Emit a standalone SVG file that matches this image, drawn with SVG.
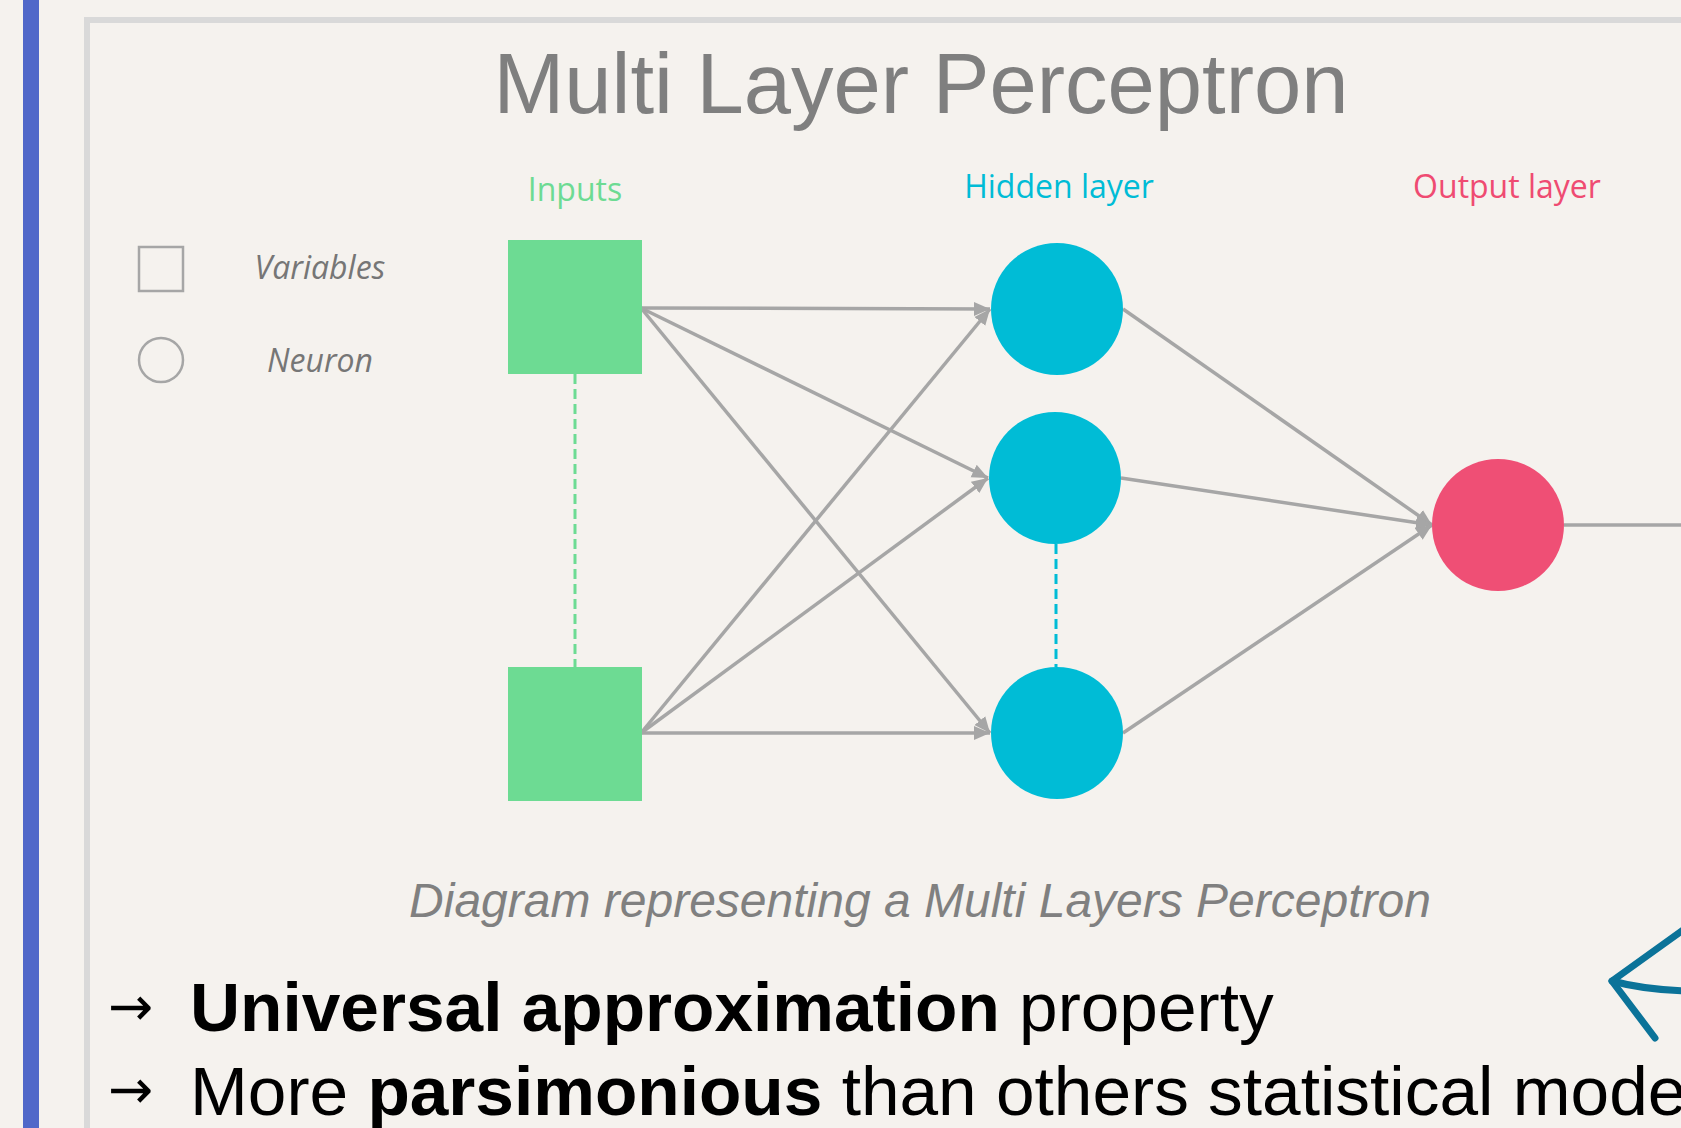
<svg xmlns="http://www.w3.org/2000/svg" width="1681" height="1128" viewBox="0 0 1681 1128">
<defs>
<style>
.lbl{font-family:"Open Sans","Noto Sans",sans-serif;font-size:32px;text-anchor:middle}
.leg{font-family:"Open Sans","Noto Sans",sans-serif;font-size:32px;font-style:italic;fill:#767676;text-anchor:middle}
.conn{stroke:#a6a6a6;stroke-width:3.5;fill:none}
.big{font-family:"Liberation Sans",Arial,sans-serif;font-size:69.4px;fill:#000}
.arr{font-family:"DejaVu Sans",sans-serif;font-size:54px;fill:#000}
.hid{fill:#00bcd6}
.inp{fill:#6ddb93}
</style>
<marker id="ah" markerUnits="userSpaceOnUse" markerWidth="18" markerHeight="16" viewBox="0 0 18 16" refX="16" refY="8" orient="auto">
<path d="M0,1 L16,8 L0,15 Z" fill="#a6a6a6"/>
</marker>
</defs>
<rect x="0" y="0" width="1681" height="1128" fill="#f5f2ee"/>
<rect x="23" y="0" width="16" height="1128" fill="#5068c9"/>
<rect x="87" y="20" width="1700" height="1200" fill="none" stroke="#d9d9d9" stroke-width="6"/>
<text x="921" y="113" font-family="Liberation Sans,Arial,sans-serif" font-size="85" fill="#7f7f7f" text-anchor="middle">Multi Layer Perceptron</text>
<text class="lbl" x="575" y="201" fill="#6ddb93">Inputs</text>
<text class="lbl" x="1059" y="198" fill="#00bcd6">Hidden layer</text>
<text class="lbl" x="1507" y="198" fill="#ef4b72">Output layer</text>
<g id="legend">
<rect x="139" y="247" width="44" height="44" fill="none" stroke="#a6a6a6" stroke-width="2.5"/>
<circle cx="161" cy="360" r="22" fill="none" stroke="#a6a6a6" stroke-width="2.5"/>
<text class="leg" x="320" y="279">Variables</text>
<text class="leg" x="320" y="372">Neuron</text>
</g>
<g id="connectors">
<line class="conn" x1="641" y1="308" x2="990" y2="309" marker-end="url(#ah)"/>
<line class="conn" x1="641" y1="308" x2="988" y2="478" marker-end="url(#ah)"/>
<line class="conn" x1="641" y1="308" x2="990" y2="733" marker-end="url(#ah)"/>
<line class="conn" x1="641" y1="733" x2="990" y2="309" marker-end="url(#ah)"/>
<line class="conn" x1="641" y1="733" x2="988" y2="478" marker-end="url(#ah)"/>
<line class="conn" x1="641" y1="733" x2="990" y2="733" marker-end="url(#ah)"/>
<line class="conn" x1="1123" y1="309" x2="1432" y2="525" marker-end="url(#ah)"/>
<line class="conn" x1="1121" y1="478" x2="1432" y2="525" marker-end="url(#ah)"/>
<line class="conn" x1="1123" y1="733" x2="1432" y2="525" marker-end="url(#ah)"/>
<line class="conn" x1="1564" y1="525" x2="1681" y2="525"/>
<line x1="575" y1="374" x2="575" y2="667" stroke="#6ddb93" stroke-width="3" stroke-dasharray="10,5"/>
<line x1="1056" y1="544" x2="1056" y2="667" stroke="#00bcd6" stroke-width="3" stroke-dasharray="10,5"/>
</g>
<g id="input1"><rect class="inp" x="508" y="240" width="134" height="134"/></g>
<g id="input2"><rect class="inp" x="508" y="667" width="134" height="134"/></g>
<g id="hidden1"><circle class="hid" cx="1057" cy="309" r="66"/></g>
<g id="hidden2"><circle class="hid" cx="1055" cy="478" r="66"/></g>
<g id="hidden3"><circle class="hid" cx="1057" cy="733" r="66"/></g>
<g id="output"><circle cx="1498" cy="525" r="66" fill="#ef4f75"/></g>
<text x="920" y="917" font-family="Liberation Sans,Arial,sans-serif" font-size="48" font-style="italic" fill="#808080" text-anchor="middle">Diagram representing a Multi Layers Perceptron</text>
<text class="arr" x="108" y="1025">→</text>
<text class="big" x="190" y="1031"><tspan font-weight="bold">Universal approximation</tspan> property</text>
<text class="arr" x="108" y="1108">→</text>
<text class="big" x="190" y="1115">More <tspan font-weight="bold">parsimonious</tspan> than others statistical models</text>
<g id="teal-arrow" fill="none" stroke="#0b7399" stroke-width="7" stroke-linecap="round" stroke-linejoin="round">
<path d="M1690,925 L1612,981 L1655,1038"/>
<path d="M1612,981 Q1645,990 1690,991"/>
</g>
</svg>
